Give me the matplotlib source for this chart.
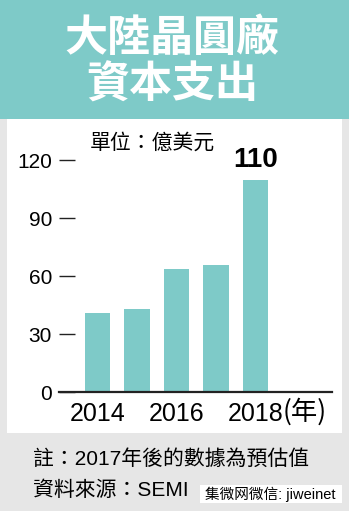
import matplotlib
matplotlib.use("Agg")
import matplotlib.pyplot as plt
from matplotlib.patches import Rectangle

# 資料
years = ["2014", "2015", "2016", "2017", "2018"]
capex = [41, 43, 63.5, 66, 110]
yticks = [0, 30, 60, 90, 120]
xtick_idx = [0, 2, 4]

W, H = 349, 511
TEAL = "#7ecac8"
GRAY = "#e6e6e6"
CJK = ["Liberation Sans", "Noto Sans CJK TC"]


def fx(px):
    return px / W


def fy(py):
    return 1 - py / H


fig = plt.figure(figsize=(W / 100, H / 100), dpi=100, facecolor=GRAY)

# 背景區塊
fig.patches.append(Rectangle((0, fy(119)), 1, 119 / H, transform=fig.transFigure,
                             facecolor=TEAL, edgecolor="none", zorder=-2))
fig.patches.append(Rectangle((fx(7), fy(433)), fx(335), (433 - 119) / H,
                             transform=fig.transFigure, facecolor="white",
                             edgecolor="none", zorder=-2))

# 標題
fig.text(fx(172), fy(38), "大陸晶圓廠", color="white", fontsize=31,
         fontweight="bold", family="Noto Sans CJK TC", ha="center", va="center")
fig.text(fx(172), fy(85), "資本支出", color="white", fontsize=31,
         fontweight="bold", family="Noto Sans CJK TC", ha="center", va="center")

# 圖表
x0, x1 = 59, 332
ax = fig.add_axes([fx(x0), fy(392), (x1 - x0) / W, (392 - 141) / H])
ax.set_zorder(2)
ax.set_facecolor("none")
xs = list(range(len(years)))
ax.bar(xs, capex, width=0.645, color=TEAL, zorder=2)
left = -38.5 / 39.5
ax.set_xlim(left, left + (x1 - x0) / 39.5)
ax.set_ylim(0, 130)

for s in ["top", "right", "left"]:
    ax.spines[s].set_visible(False)
ax.spines["bottom"].set_linewidth(1.6)
ax.spines["bottom"].set_color("#222222")
ax.spines["bottom"].set_zorder(3)

ax.set_yticks(yticks)
ax.set_yticklabels([str(v) for v in yticks], family="Liberation Sans", fontsize=15)
ax.tick_params(axis="y", direction="in", length=11.5, width=1.0, pad=5,
               color="#222222")
ax.set_xticks(xtick_idx)
ax.set_xticklabels([years[i] for i in xtick_idx], family="Liberation Sans",
                   fontsize=18)
ax.tick_params(axis="x", length=0, pad=7)

ax.annotate("110", (4, capex[4]), xytext=(0, 5), textcoords="offset points",
            ha="center", va="bottom", fontsize=20, fontweight="bold",
            family="Liberation Sans")

fig.text(fx(283), fy(412), "(年)", family="Noto Sans CJK TC", fontsize=19,
         ha="left", va="center")
fig.text(fx(152), fy(143), "單位：億美元", family="Noto Sans CJK TC",
         fontsize=15, ha="center", va="center")

# 註
fig.text(fx(33), fy(459), "註：2017年後的數據為預估值", family=CJK,
         fontsize=15, ha="left", va="center")
fig.text(fx(33), fy(490), "資料來源：SEMI", family=CJK,
         fontsize=15, ha="left", va="center")
fig.patches.append(Rectangle((fx(200), fy(503)), fx(142), 18 / H,
                             transform=fig.transFigure, facecolor="white",
                             edgecolor="none", zorder=1))
fig.text(fx(205), fy(494), "集微网微信: jiweinet",
         family=["Liberation Sans", "Noto Sans CJK SC"], fontsize=10.5,
         ha="left", va="center", zorder=2)

fig.savefig("out.png", dpi=100, facecolor=GRAY)
